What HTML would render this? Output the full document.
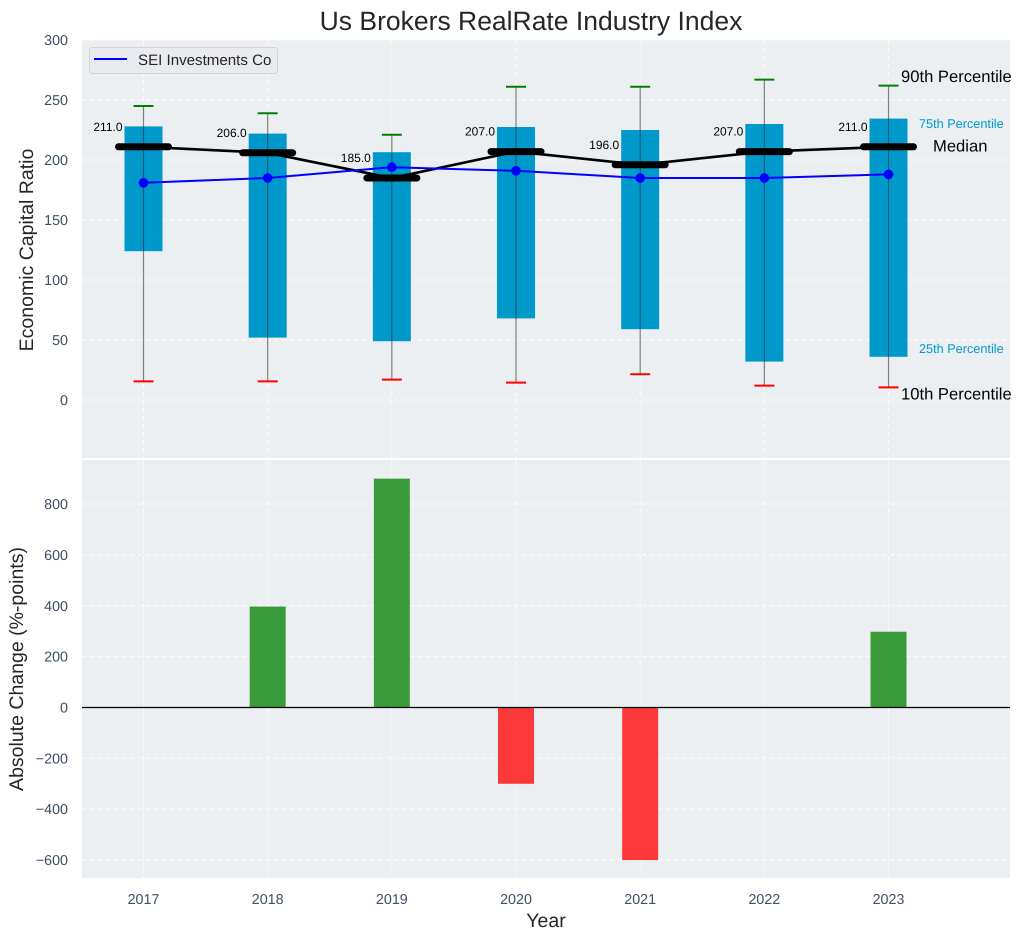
<!DOCTYPE html>
<html>
<head>
<meta charset="utf-8">
<style>
html,body{margin:0;padding:0;background:#fff;}
svg{display:block;font-family:"Liberation Sans",Arial,sans-serif;text-rendering:geometricPrecision;}
</style>
</head>
<body>
<svg id="chart" xmlns="http://www.w3.org/2000/svg" width="1021" height="940" viewBox="0 0 1021 940"></svg>
<script>
const years = [2017, 2018, 2019, 2020, 2021, 2022, 2023];
const p90 = [245, 239, 221, 261, 261, 267, 262];
const p75 = [228, 222, 206.5, 227.5, 225, 230, 234.5];
const medians = [211, 206, 185, 207, 196, 207, 211];
const p25 = [124, 52, 49, 68, 59, 32, 36];
const p10 = [15.5, 15.5, 17, 14.5, 21.5, 12, 10.5];
const seiValues = [181, 185, 194, 191, 185, 185, 188];
const changes = [0, 397, 900, -300, -600, 0, 298];
const topTicks = [0, 50, 100, 150, 200, 250, 300];
const bottomTicks = [-600, -400, -200, 0, 200, 400, 600, 800];

const svg = document.getElementById('chart');
const NS = 'http://www.w3.org/2000/svg';
const L = 82, R = 1010, T1 = 40, B1 = 458, T2 = 460, B2 = 878;
const xS = v => 143.5 + (v - 2017) * 124.17;
const y1 = v => 400 - v * 1.2;
const y2 = v => 707.5 - v * 0.2543;
const TICK = '#3f4f66';

function mk(tag, attrs, parent) {
  const el = document.createElementNS(NS, tag);
  for (const k in attrs) el.setAttribute(k, attrs[k]);
  (parent || svg).appendChild(el);
  return el;
}
function txt(s, x, y, size, fill, anchor, extra) {
  const el = mk('text', Object.assign({x: x, y: y, 'font-size': size, fill: fill, 'text-anchor': anchor || 'start'}, extra || {}));
  el.textContent = s;
  return el;
}
function line(x1, ya, x2, yb, stroke, w, extra) {
  return mk('line', Object.assign({x1: x1, y1: ya, x2: x2, y2: yb, stroke: stroke, 'stroke-width': w}, extra || {}));
}

/* panels */
let e = mk('rect', {x: L, y: T1, width: R - L, height: B1 - T1, fill: '#ECEFF1'});


e = mk('rect', {x: L, y: T2, width: R - L, height: B2 - T2, fill: '#ECEFF1'});



/* grid */
const gridStyle = {'stroke-dasharray': '5 3', opacity: 0.75};
years.forEach(yr => {
  e = line(xS(yr), T1, xS(yr), B1, '#fff', 1, gridStyle);
  
  
  e = line(xS(yr), T2, xS(yr), B2, '#fff', 1, gridStyle);
  
  
});
topTicks.forEach(t => {
  e = line(L, y1(t), R, y1(t), '#fff', 1, gridStyle);
  
  
  e = txt(String(t), 68, y1(t) + 5, 14.3, TICK, 'end');
  
  
});
bottomTicks.forEach(t => {
  e = line(L, y2(t), R, y2(t), '#fff', 1, gridStyle);
  
  
  e = txt(String(t).replace('-', '\u2212'), 68, y2(t) + 5, 14.3, TICK, 'end');
  
  
});
years.forEach(yr => {
  e = txt(String(yr), xS(yr), 904, 14.3, TICK, 'middle');
  
  
});

/* boxes */
const halfBox = 19;
years.forEach((yr, i) => {
  e = mk('rect', {x: xS(yr) - halfBox, y: y1(p75[i]), width: halfBox * 2, height: y1(p25[i]) - y1(p75[i]), fill: '#0099CC'});
  
  
});

/* whiskers */
years.forEach((yr, i) => {
  e = line(xS(yr), y1(p90[i]), xS(yr), y1(p10[i]), '#333', 1.2, {opacity: 0.6});
  
  
  e = line(xS(yr) - 10, y1(p90[i]), xS(yr) + 10, y1(p90[i]), '#008000', 2);
  
  
  e = line(xS(yr) - 10, y1(p10[i]), xS(yr) + 10, y1(p10[i]), '#ff0000', 2);
  
  
});

/* median line and thick markers */
e = mk('polyline', {points: years.map((yr, i) => xS(yr) + ',' + y1(medians[i])).join(' '), fill: 'none', stroke: '#000', 'stroke-width': 2.6});


years.forEach((yr, i) => {
  e = line(xS(yr) - 25, y1(medians[i]), xS(yr) + 25, y1(medians[i]), '#000', 7, {'stroke-linecap': 'round'});
  
  
  e = txt(medians[i].toFixed(1), xS(yr) - 21, y1(medians[i]) - 16, 12, '#000', 'end');
  
  
});

/* SEI series */
e = mk('polyline', {points: years.map((yr, i) => xS(yr) + ',' + y1(seiValues[i])).join(' '), fill: 'none', stroke: '#0000ff', 'stroke-width': 2});


years.forEach((yr, i) => {
  e = mk('circle', {cx: xS(yr), cy: y1(seiValues[i]), r: 4.8, fill: '#0000ff'});
  
  
});

/* annotations on the last year */
e = txt('90th Percentile', 901, 82, 16.6, '#000');


e = txt('75th Percentile', 919, 128, 12.7, '#0099CC');


e = txt('Median', 933, 151.5, 16.6, '#000');


e = txt('25th Percentile', 919, 353, 12.7, '#0099CC');


e = txt('10th Percentile', 901, 399.5, 16.6, '#000');



/* legend */
e = mk('rect', {x: 89.5, y: 47.5, width: 188, height: 26, rx: 3, fill: '#E9EBF0', stroke: '#d2d3d8', 'stroke-width': 1});


e = line(94, 59, 127, 59, '#0000ff', 2);


e = txt('SEI Investments Co', 138, 65, 15.1, '#262626');



/* change bars */
const halfBar = 18;
years.forEach((yr, i) => {
  const v = changes[i];
  if (v === 0) return;
  const top = Math.min(y2(v), y2(0));
  e = mk('rect', {x: xS(yr) - halfBar, y: top, width: halfBar * 2, height: Math.abs(y2(v) - y2(0)), fill: v > 0 ? '#008000' : '#ff0000', 'fill-opacity': 0.76});
  
  
});
e = line(L, y2(0), R, y2(0), '#000', 1.2);



/* titles */
e = txt('Us Brokers RealRate Industry Index', 531, 30, 26.5, '#262626', 'middle');


e = txt('Economic Capital Ratio', 33, 250, 19.5, '#262626', 'middle', {transform: 'rotate(-90 33 250)'});


e = txt('Absolute Change (%-points)', 23, 669, 19.5, '#262626', 'middle', {transform: 'rotate(-90 23 669)'});


e = txt('Year', 546, 927, 19.5, '#262626', 'middle');


</script>
</body>
</html>
